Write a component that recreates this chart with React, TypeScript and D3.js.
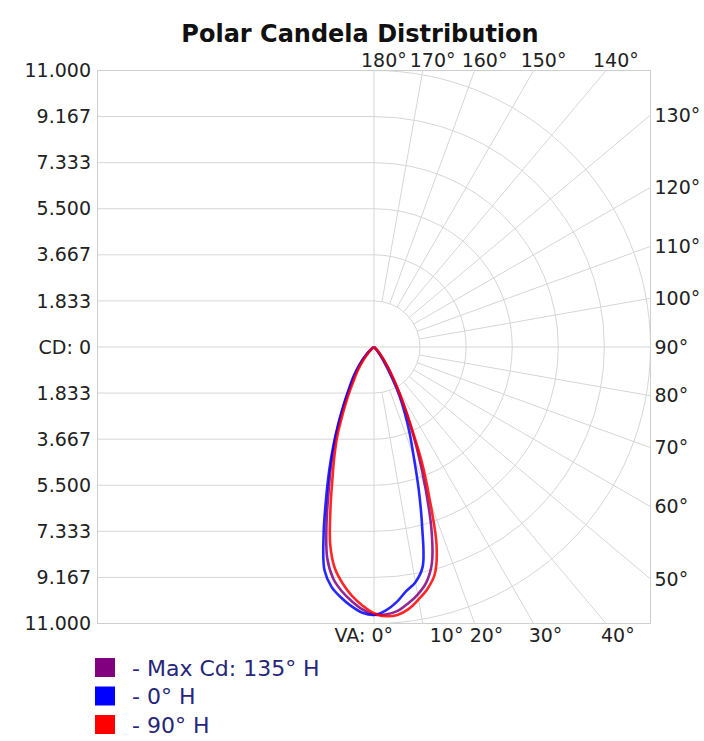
import React from "react";
import * as d3 from "d3";

// ---- data ----
const cdTicks = [0, 1.833, 3.667, 5.5, 7.333, 9.167, 11];
const cdTickLabels = ["CD: 0", "1.833", "3.667", "5.500", "7.333", "9.167", "11.000"];
const gridAngles = [0, 10, 20, 30, 40, 50, 60, 70, 80, 90, 100, 110, 120, 130, 140, 150, 160, 170, 180];

// vertical angles (deg) at which candela values are given
const vAngles = [0, 2.5, 5, 7.5, 10, 12.5, 15, 17.5, 20, 22.5, 25, 27.5, 30, 35, 40, 45, 50, 55, 60, 70, 80, 90];

// Max Cd: 135° H  (right = 135° H, left = 315° H)
const maxRight = [10.68, 10.65, 10.55, 10.3, 10.0, 9.6, 8.9, 7.6, 6.0, 4.6, 3.4, 2.5, 1.8, 0.9, 0.4, 0.15, 0.04, 0, 0, 0, 0, 0];
const maxLeft = [10.6, 10.45, 10.15, 9.8, 9.35, 8.6, 7.3, 6.0, 5.0, 4.1, 3.25, 2.55, 2.0, 1.3, 0.8, 0.4, 0.15, 0.04, 0, 0, 0, 0];
// 0° H (right = 0° H, left = 180° H)
const h0Right = [10.66, 10.5, 10.2, 9.8, 9.5, 8.95, 7.4, 5.9, 4.6, 3.7, 2.9, 2.2, 1.5, 0.6, 0.2, 0.05, 0, 0, 0, 0, 0, 0];
const h0Left = [10.66, 10.58, 10.35, 10.05, 9.7, 9.1, 7.75, 6.35, 5.2, 4.2, 3.35, 2.65, 2.1, 1.4, 0.85, 0.45, 0.2, 0.06, 0, 0, 0, 0];
// 90° H (right = 90° H, left = 270° H)
const h90Right = [10.68, 10.72, 10.7, 10.52, 10.2, 9.85, 9.35, 8.28, 6.5, 5.0, 3.5, 2.5, 1.8, 0.9, 0.4, 0.15, 0.04, 0, 0, 0, 0, 0];
const h90Left = [10.5, 10.3, 9.95, 9.5, 8.95, 8.05, 6.7, 5.5, 4.6, 3.8, 2.95, 2.3, 1.75, 1.1, 0.6, 0.3, 0.1, 0.02, 0, 0, 0, 0];

const seriesNames = ["- Max Cd: 135° H", "- 0° H", "- 90° H"];
const seriesColors = ["#800080", "#0000ff", "#ff0000"];

// ---- layout ----
const W = 704;
const H = 741;
const cx = 374;
const cy = 347;
const R = 276.5;
const x0 = cx - R;
const x1 = cx + R;
const y0 = cy - R;
const y1 = cy + R;
const FONT = "'DejaVu Sans', Verdana, sans-serif";
const GRID = "#d6d6d6";

export default function App() {
  const r = d3.scaleLinear().domain([0, 11]).range([0, R]);
  const rad = (d: number) => (d * Math.PI) / 180;

  const radial = d3
    .lineRadial<[number, number]>()
    .angle((d) => d[0])
    .radius((d) => r(d[1]))
    .curve(d3.curveCatmullRomClosed.alpha(0.5));

  const buildPath = (left: number[], right: number[]) => {
    const pts: [number, number][] = [];
    for (let i = vAngles.length - 1; i >= 1; i--) pts.push([Math.PI + rad(vAngles[i]), left[i]]);
    pts.push([Math.PI, (left[0] + right[0]) / 2]);
    for (let i = 1; i < vAngles.length; i++) pts.push([Math.PI - rad(vAngles[i]), right[i]]);
    return radial(pts) || "";
  };

  const series = [
    { left: maxLeft, right: maxRight },
    { left: h0Left, right: h0Right },
    { left: h90Left, right: h90Right },
  ];

  const hit = (deg: number) => {
    const s = Math.sin(rad(deg));
    const c = Math.cos(rad(deg));
    const t = R / Math.max(Math.abs(s), Math.abs(c));
    return { x: cx + t * s, y: cy + t * c, t };
  };

  const innerR = r(cdTicks[1]);

  return (
    <svg width={W} height={H} style={{ display: "block", position: "absolute", left: 0, top: 0 }}>
      <defs>
        <clipPath id="box">
          <rect x={x0} y={y0} width={x1 - x0} height={y1 - y0} />
        </clipPath>
      </defs>
      <rect width={W} height={H} fill="#fff" />
      <text x={360} y={42} textAnchor="middle" fontFamily={FONT} fontWeight="bold" fontSize={24} fill="#111">
        Polar Candela Distribution
      </text>

      <g clipPath="url(#box)" fill="none" stroke={GRID} strokeWidth={1}>
        {cdTicks.slice(1).map((v, i) => (
          <g key={"g" + i}>
            <line x1={x0} x2={cx} y1={cy - r(v)} y2={cy - r(v)} />
            <line x1={x0} x2={cx} y1={cy + r(v)} y2={cy + r(v)} />
            <path d={`M${cx},${cy - r(v)} A${r(v)},${r(v)} 0 0 1 ${cx},${cy + r(v)}`} />
          </g>
        ))}
        {gridAngles.map((a) => {
          const s = Math.sin(rad(a));
          const c = Math.cos(rad(a));
          const h = hit(a);
          const start = a === 0 || a === 180 || a === 90 ? 0 : innerR;
          return <line key={"r" + a} x1={cx + start * s} y1={cy + start * c} x2={h.x} y2={h.y} />;
        })}
        <line x1={x0} x2={cx} y1={cy} y2={cy} />
      </g>
      <rect x={x0} y={y0} width={x1 - x0} height={y1 - y0} fill="none" stroke="#cfcfcf" strokeWidth={1} />

      {/* left cd labels */}
      <g fontFamily={FONT} fontSize={19} fill="#222" textAnchor="end">
        {cdTicks.map((v, i) => (
          <text key={"u" + i} x={91} y={cy - r(v)} dy="0.35em">
            {cdTickLabels[i]}
          </text>
        ))}
        {cdTicks.slice(1).map((v, i) => (
          <text key={"d" + i} x={91} y={cy + r(v)} dy="0.35em">
            {cdTickLabels[i + 1]}
          </text>
        ))}
      </g>

      {/* angle labels */}
      <g fontFamily={FONT} fontSize={19} fill="#222">
        {gridAngles.map((a) => {
          const h = hit(a);
          if (a >= 140) {
            return (
              <text key={"t" + a} x={h.x - 13} y={60} dy="0.35em">
                {a}°
              </text>
            );
          }
          if (a >= 50) {
            return (
              <text key={"t" + a} x={x1 + 4} y={h.y} dy="0.35em">
                {a}°
              </text>
            );
          }
          if (a === 0) {
            return (
              <text key={"t" + a} x={393} y={635} dy="0.35em" textAnchor="end">
                VA: 0°
              </text>
            );
          }
          return (
            <text key={"t" + a} x={h.x - 5 + (a === 10 ? 12 : 0)} y={635} dy="0.35em">
              {a}°
            </text>
          );
        })}
      </g>

      {/* curves */}
      <g transform={`translate(${cx},${cy})`} fill="none" strokeWidth={2.6} strokeLinejoin="round">
        {series.map((s, i) => (
          <path key={"c" + i} d={buildPath(s.left, s.right)} stroke={seriesColors[i]} strokeOpacity={0.85} />
        ))}
      </g>

      {/* legend */}
      <g fontFamily={FONT} fontSize={22} fill="#26267a">
        {seriesNames.map((n, i) => (
          <g key={"l" + i} transform={`translate(95,${658 + i * 28.5})`}>
            <rect width={20} height={19} fill={seriesColors[i]} />
            <text x={37} y={10} dy="0.35em">
              {n}
            </text>
          </g>
        ))}
      </g>
    </svg>
  );
}
